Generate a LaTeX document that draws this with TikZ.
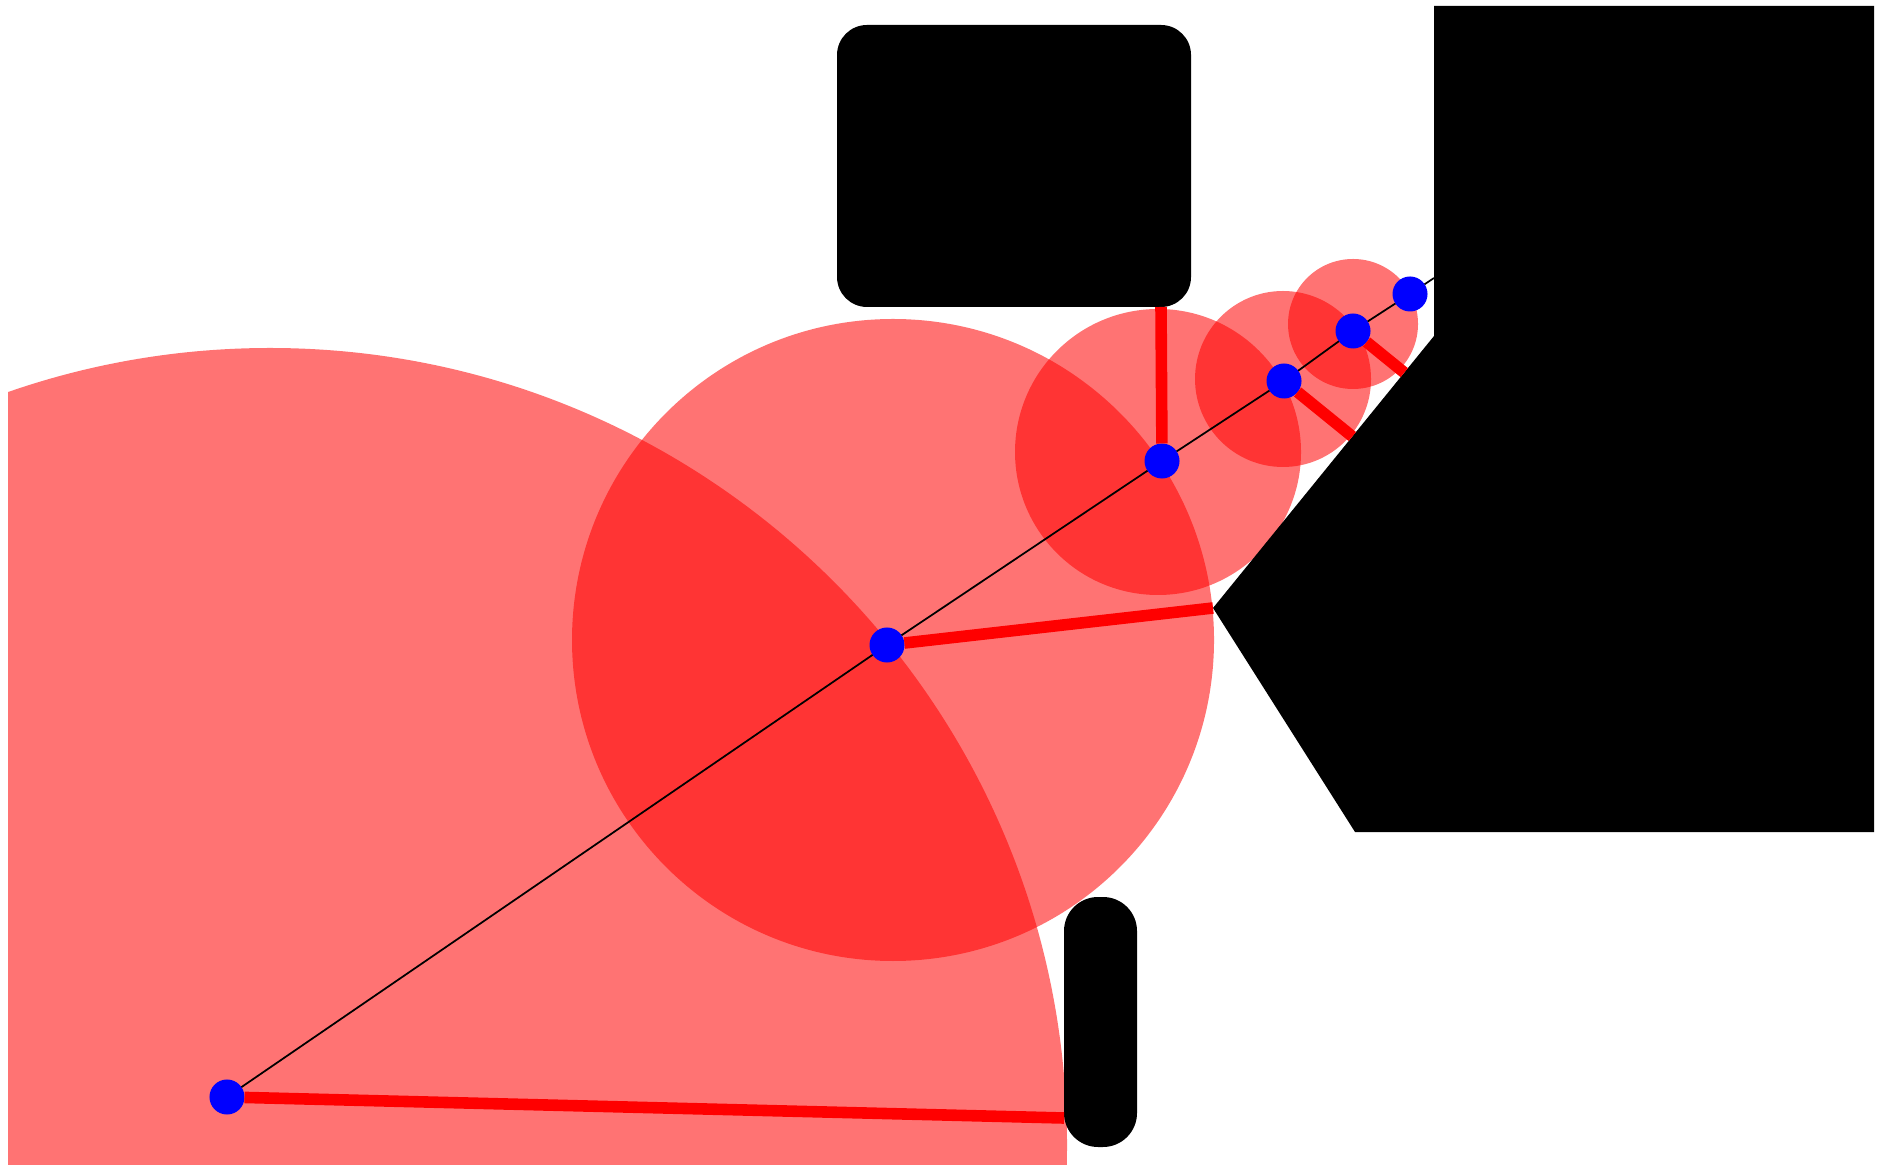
\documentclass[tikz,border=0pt]{standalone}
\usepackage{tikz}
\usetikzlibrary{calc}
\definecolor{ballred} {RGB}{255,  0,  0}
\definecolor{hitred}  {RGB}{255,  0,  0}
\definecolor{probeblue}{RGB}{ 0,  0,255}

\begin{document}
\begin{tikzpicture}[
  x=0.01cm, y=-0.01cm,
  every node/.style={inner sep=0pt, outer sep=0pt},
  ball/.style={fill=ballred, fill opacity=0.55},
  wall/.style={fill=black},
  hit/.style={draw=hitred, line width=3.3pt},
  ray/.style={draw=black, line width=0.5pt},
  probe/.style={circle, fill=probeblue, minimum size=0.35cm},
]
\useasboundingbox (0,0) rectangle (1886,1168);

%% ── Distance spheres ─────────────────────────────────────────────────────
\begin{scope}
  \clip (8,0) rectangle (1886,1164);
  \fill[ball] (270,1145) circle[radius=797];
  \fill[ball] (893,640)  circle[radius=321];
  \fill[ball] (1158,452) circle[radius=143];
  \fill[ball] (1283,379) circle[radius=88];
  \fill[ball] (1353,324) circle[radius=65];
\end{scope}

%% ── Obstacles ────────────────────────────────────────────────────────────
\fill[wall, rounded corners=0.3cm] (837,25) rectangle (1191,307);
\fill[wall, rounded corners=0.34cm] (1064,897) rectangle (1137,1147);
\fill[wall] (1434,6) coordinate (v0) -- (1874,6) -- (1874,832) -- (1355,832)
  -- (1213,608) coordinate (v2) -- (1434,336) coordinate (v1) -- cycle;

%% ── March points along the ray ───────────────────────────────────────────
\node[probe] (p0) at (227,1097) {};
\node[probe] (p1) at (887,645)  {};
\node[probe] (p2) at (1162,461) {};
\node[probe] (p3) at (1284,381) {};
\node[probe] (p4) at (1353,331) {};
\node[probe] (p5) at (1410,294) {};
\coordinate (rayend) at (1434,278);

%% closest surface points
\coordinate (c0) at (1064,1118);
\coordinate (c1) at (v2);
\coordinate (c2) at (1161,307);
\coordinate (c3) at ($(v1)!(p3)!(v2)$);
\coordinate (c4) at ($(v1)!(p4)!(v2)$);

%% Ray
\draw[ray] (p0) -- (p1);
\draw[ray] (p1) -- (p2);
\draw[ray] (p2) -- (p3);
\draw[ray] (p3) -- (p4);
\draw[ray] (p4) -- (p5);
\draw[ray] (p5) -- (rayend);

%% Distance to nearest obstacle
\draw[hit] (p0) -- (c0);
\draw[hit] (p1) -- (c1);
\draw[hit] (p2) -- (c2);
\draw[hit] (p3) -- (c3);
\draw[hit] (p4) -- (c4);

\end{tikzpicture}
\end{document}
